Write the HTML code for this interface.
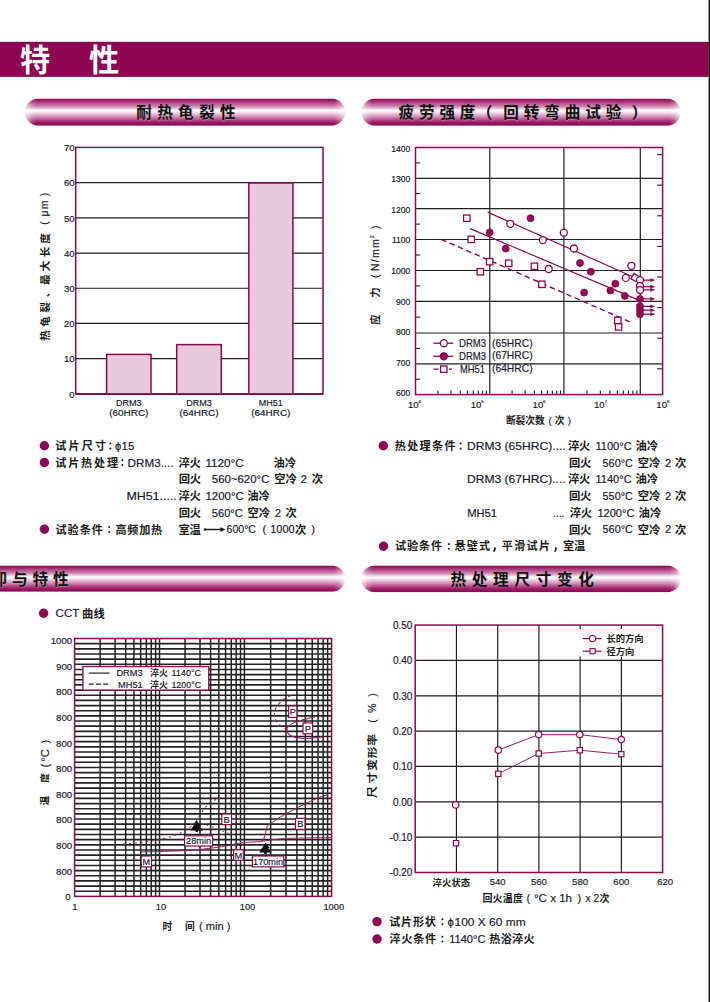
<!DOCTYPE html>
<html lang="zh"><head><meta charset="utf-8"><title>特性</title>
<style>
html,body{margin:0;padding:0;background:#fff}
body{width:710px;height:1002px;overflow:hidden;font-family:"Liberation Sans",sans-serif}
svg{display:block}
svg text{font-family:"Liberation Sans",sans-serif;stroke-width:.16px}
svg text.c{font-family:"Liberation Sans","Noto Sans CJK SC",sans-serif;font-weight:700;fill:#1a1a1a;stroke:none}
svg text.w{fill:#fff}
svg text.k{fill:#111}
svg text.s{fill:#b9a;opacity:.5}
</style></head><body>
<svg width="710" height="1002" viewBox="0 0 710 1002">
<defs>
<linearGradient id="pg" x1="0" y1="0" x2="0" y2="1">
<stop offset="0" stop-color="#8e0552"/><stop offset=".1" stop-color="#a2286d"/><stop offset=".3" stop-color="#d18cb7"/><stop offset=".44" stop-color="#fff"/><stop offset=".5" stop-color="#f8e6f0"/><stop offset=".68" stop-color="#cf84b2"/><stop offset=".86" stop-color="#9e2169"/><stop offset="1" stop-color="#8a044e"/>
</linearGradient>
<linearGradient id="er" x1="0" y1="0" x2="1" y2="0"><stop offset="0" stop-color="#fff" stop-opacity="0"/><stop offset=".5" stop-color="#fff" stop-opacity=".22"/><stop offset="1" stop-color="#fff" stop-opacity=".7"/></linearGradient>
<linearGradient id="el" x1="1" y1="0" x2="0" y2="0"><stop offset="0" stop-color="#fff" stop-opacity="0"/><stop offset=".5" stop-color="#fff" stop-opacity=".22"/><stop offset="1" stop-color="#fff" stop-opacity=".7"/></linearGradient>
</defs>
<rect x="0" y="0" width="710" height="1002" fill="#fff"/>
<rect x="0" y="41.8" width="708.8" height="35.1" fill="#8e0552"/>
<rect x="708.6" y="0" width="1.4" height="1002" fill="#0c0c0c"/>
<text class="c w" x="20" y="71.08" font-size="30.2" textLength="30.2">特</text>
<text class="c w" x="89" y="71.08" font-size="30.2" textLength="30.2">性</text>
<clipPath id="c1025_98"><rect x="25" y="98.5" width="320" height="27.3" rx="13.65"/></clipPath>
<g clip-path="url(#c1025_98)">
<rect x="25" y="98.5" width="320" height="27.3" fill="url(#pg)"/>
<rect x="334" y="98.5" width="11" height="27.3" fill="url(#er)"/>
<rect x="25" y="98.5" width="11" height="27.3" fill="url(#el)"/>
</g>
<clipPath id="c1361_98"><rect x="361.5" y="98.5" width="319" height="27.3" rx="13.65"/></clipPath>
<g clip-path="url(#c1361_98)">
<rect x="361.5" y="98.5" width="319" height="27.3" fill="url(#pg)"/>
<rect x="669.5" y="98.5" width="11" height="27.3" fill="url(#er)"/>
<rect x="361.5" y="98.5" width="11" height="27.3" fill="url(#el)"/>
</g>
<clipPath id="c970_565"><rect x="-30" y="565.4" width="375" height="26.4" rx="13.2"/></clipPath>
<g clip-path="url(#c970_565)">
<rect x="-30" y="565.4" width="375" height="26.4" fill="url(#pg)"/>
<rect x="334" y="565.4" width="11" height="26.4" fill="url(#er)"/>
</g>
<clipPath id="c1361_565"><rect x="361.5" y="565.4" width="319" height="26.9" rx="13.45"/></clipPath>
<g clip-path="url(#c1361_565)">
<rect x="361.5" y="565.4" width="319" height="26.9" fill="url(#pg)"/>
<rect x="669.5" y="565.4" width="11" height="26.9" fill="url(#er)"/>
<rect x="361.5" y="565.4" width="11" height="26.9" fill="url(#el)"/>
</g>
<text class="c s" x="136.92" y="119.03" font-size="15.6" textLength="99.4">耐热龟裂性</text>
<text class="c k" x="136.22" y="118.33" font-size="15.6" textLength="99.4">耐热龟裂性</text>
<text class="c s" x="399.32" y="119.13" font-size="15.6" textLength="76.8">疲劳强度</text>
<text class="c k" x="398.62" y="118.43" font-size="15.6" textLength="76.8">疲劳强度</text>
<text class="c s" x="477.37" y="119.13" font-size="15.6" textLength="15.6">（</text>
<text class="c k" x="476.67" y="118.43" font-size="15.6" textLength="15.6">（</text>
<text class="c s" x="503.85" y="119.13" font-size="15.6" textLength="118.1">回转弯曲试验</text>
<text class="c k" x="503.15" y="118.43" font-size="15.6" textLength="118.1">回转弯曲试验</text>
<text class="c s" x="632.43" y="119.13" font-size="15.6" textLength="15.6">）</text>
<text class="c k" x="631.73" y="118.43" font-size="15.6" textLength="15.6">）</text>
<text class="c s" x="12.67" y="585.73" font-size="15.6" textLength="56.6">与特性</text>
<text class="c k" x="11.97" y="585.03" font-size="15.6" textLength="56.6">与特性</text>
<text class="c s" x="-8.01" y="585.73" font-size="15.6" textLength="15.6">却</text>
<text class="c k" x="-8.71" y="585.03" font-size="15.6" textLength="15.6">却</text>
<text class="c s" x="451.21" y="585.43" font-size="15.6" textLength="143.4">热处理尺寸变化</text>
<text class="c k" x="450.51" y="584.73" font-size="15.6" textLength="143.4">热处理尺寸变化</text>
<line x1="75.7" y1="358.69" x2="323" y2="358.69" stroke="#1e1e1e" stroke-width="1.2"/>
<line x1="75.7" y1="323.47" x2="323" y2="323.47" stroke="#1e1e1e" stroke-width="1.2"/>
<line x1="75.7" y1="288.26" x2="323" y2="288.26" stroke="#1e1e1e" stroke-width="1.2"/>
<line x1="75.7" y1="253.04" x2="323" y2="253.04" stroke="#1e1e1e" stroke-width="1.2"/>
<line x1="75.7" y1="217.83" x2="323" y2="217.83" stroke="#1e1e1e" stroke-width="1.2"/>
<line x1="75.7" y1="182.61" x2="323" y2="182.61" stroke="#1e1e1e" stroke-width="1.2"/>
<line x1="75.7" y1="393.9" x2="323" y2="393.9" stroke="#1e1e1e" stroke-width="1.6"/>
<rect x="106.6" y="354.4" width="44.4" height="39.8" fill="#e9c9dd" stroke="#8e0552" stroke-width="1.5"/>
<rect x="176.7" y="344.6" width="44.6" height="49.6" fill="#e9c9dd" stroke="#8e0552" stroke-width="1.5"/>
<rect x="248.8" y="183" width="44.1" height="211.2" fill="#e9c9dd" stroke="#8e0552" stroke-width="1.5"/>
<rect x="75.7" y="147.4" width="247.3" height="246.5" fill="none" stroke="#8e0552" stroke-width="1.5"/>
<text x="74.6" y="397.64" font-size="9.6" fill="#16162b" stroke="#16162b" text-anchor="end">0</text>
<text x="74.6" y="362.42" font-size="9.6" fill="#16162b" stroke="#16162b" text-anchor="end">10</text>
<text x="74.6" y="327.21" font-size="9.6" fill="#16162b" stroke="#16162b" text-anchor="end">20</text>
<text x="74.6" y="291.99" font-size="9.6" fill="#16162b" stroke="#16162b" text-anchor="end">30</text>
<text x="74.6" y="256.78" font-size="9.6" fill="#16162b" stroke="#16162b" text-anchor="end">40</text>
<text x="74.6" y="221.57" font-size="9.6" fill="#16162b" stroke="#16162b" text-anchor="end">50</text>
<text x="74.6" y="186.35" font-size="9.6" fill="#16162b" stroke="#16162b" text-anchor="end">60</text>
<text x="74.6" y="151.14" font-size="9.6" fill="#16162b" stroke="#16162b" text-anchor="end">70</text>
<text x="128.8" y="405.62" font-size="9" fill="#16162b" stroke="#16162b" text-anchor="middle">DRM3</text>
<text x="109.2" y="415.97" font-size="9.4" fill="#16162b" stroke="#16162b" textLength="39.2" lengthAdjust="spacingAndGlyphs">(60HRC)</text>
<text x="199" y="405.62" font-size="9" fill="#16162b" stroke="#16162b" text-anchor="middle">DRM3</text>
<text x="179.4" y="415.97" font-size="9.4" fill="#16162b" stroke="#16162b" textLength="39.2" lengthAdjust="spacingAndGlyphs">(64HRC)</text>
<text x="270.8" y="405.62" font-size="9" fill="#16162b" stroke="#16162b" text-anchor="middle">MH51</text>
<text x="251.2" y="415.97" font-size="9.4" fill="#16162b" stroke="#16162b" textLength="39.2" lengthAdjust="spacingAndGlyphs">(64HRC)</text>
<g transform="translate(44.6 0) rotate(-90)">
<text class="c" x="-340.7" y="4.03" font-size="10.6" textLength="10.6">热</text>
<text class="c" x="-326.7" y="4.03" font-size="10.6" textLength="10.6">龟</text>
<text class="c" x="-312.8" y="4.03" font-size="10.6" textLength="10.6">裂</text>
<text class="c" x="-297.3" y="4.03" font-size="10.6" textLength="10.6">、</text>
<text class="c" x="-285" y="4.03" font-size="10.6" textLength="10.6">最</text>
<text class="c" x="-271.3" y="4.03" font-size="10.6" textLength="10.6">大</text>
<text class="c" x="-257.3" y="4.03" font-size="10.6" textLength="10.6">长</text>
<text class="c" x="-243.7" y="4.03" font-size="10.6" textLength="10.6">度</text>
<text x="-223" y="3.76" font-size="10.5" fill="#16162b" stroke="#16162b" text-anchor="middle">(</text>
<text x="-207.8" y="3.76" font-size="10.5" fill="#16162b" stroke="#16162b" text-anchor="middle" letter-spacing="1.2">μm</text>
<text x="-194.6" y="3.76" font-size="10.5" fill="#16162b" stroke="#16162b" text-anchor="middle">)</text>
</g>
<line x1="415.5" y1="178.3" x2="662.6" y2="178.3" stroke="#1e1e1e" stroke-width="1.2"/>
<line x1="415.5" y1="208.7" x2="662.6" y2="208.7" stroke="#1e1e1e" stroke-width="1.2"/>
<line x1="415.5" y1="239.5" x2="662.6" y2="239.5" stroke="#1e1e1e" stroke-width="1.2"/>
<line x1="415.5" y1="270.5" x2="662.6" y2="270.5" stroke="#1e1e1e" stroke-width="1.2"/>
<line x1="415.5" y1="301.3" x2="662.6" y2="301.3" stroke="#1e1e1e" stroke-width="1.2"/>
<line x1="415.5" y1="333" x2="662.6" y2="333" stroke="#1e1e1e" stroke-width="1.2"/>
<line x1="415.5" y1="363.9" x2="662.6" y2="363.9" stroke="#1e1e1e" stroke-width="1.2"/>
<line x1="489.8" y1="147.5" x2="489.8" y2="394.6" stroke="#1e1e1e" stroke-width="1.2"/>
<line x1="563.9" y1="147.5" x2="563.9" y2="394.6" stroke="#1e1e1e" stroke-width="1.2"/>
<line x1="640.3" y1="147.5" x2="640.3" y2="394.6" stroke="#1e1e1e" stroke-width="1.2"/>
<line x1="415.5" y1="379.25" x2="420.1" y2="379.25" stroke="#1e1e1e" stroke-width="1.1"/>
<line x1="415.5" y1="348.45" x2="420.1" y2="348.45" stroke="#1e1e1e" stroke-width="1.1"/>
<line x1="415.5" y1="317.15" x2="420.1" y2="317.15" stroke="#1e1e1e" stroke-width="1.1"/>
<line x1="415.5" y1="285.9" x2="420.1" y2="285.9" stroke="#1e1e1e" stroke-width="1.1"/>
<line x1="415.5" y1="255" x2="420.1" y2="255" stroke="#1e1e1e" stroke-width="1.1"/>
<line x1="415.5" y1="224.1" x2="420.1" y2="224.1" stroke="#1e1e1e" stroke-width="1.1"/>
<line x1="415.5" y1="193.5" x2="420.1" y2="193.5" stroke="#1e1e1e" stroke-width="1.1"/>
<line x1="415.5" y1="162.9" x2="420.1" y2="162.9" stroke="#1e1e1e" stroke-width="1.1"/>
<line x1="657.1" y1="154.6" x2="662.6" y2="154.6" stroke="#1e1e1e" stroke-width="1.1"/>
<line x1="657.1" y1="185.2" x2="662.6" y2="185.2" stroke="#1e1e1e" stroke-width="1.1"/>
<line x1="657.1" y1="215.8" x2="662.6" y2="215.8" stroke="#1e1e1e" stroke-width="1.1"/>
<line x1="657.1" y1="246.4" x2="662.6" y2="246.4" stroke="#1e1e1e" stroke-width="1.1"/>
<line x1="657.1" y1="277" x2="662.6" y2="277" stroke="#1e1e1e" stroke-width="1.1"/>
<line x1="657.1" y1="307.6" x2="662.6" y2="307.6" stroke="#1e1e1e" stroke-width="1.1"/>
<line x1="657.1" y1="338.2" x2="662.6" y2="338.2" stroke="#1e1e1e" stroke-width="1.1"/>
<line x1="657.1" y1="368.8" x2="662.6" y2="368.8" stroke="#1e1e1e" stroke-width="1.1"/>
<line x1="437.87" y1="390.4" x2="437.87" y2="394.6" stroke="#1e1e1e" stroke-width="1.1"/>
<line x1="450.95" y1="390.4" x2="450.95" y2="394.6" stroke="#1e1e1e" stroke-width="1.1"/>
<line x1="460.23" y1="390.4" x2="460.23" y2="394.6" stroke="#1e1e1e" stroke-width="1.1"/>
<line x1="467.43" y1="390.4" x2="467.43" y2="394.6" stroke="#1e1e1e" stroke-width="1.1"/>
<line x1="473.32" y1="390.4" x2="473.32" y2="394.6" stroke="#1e1e1e" stroke-width="1.1"/>
<line x1="478.29" y1="390.4" x2="478.29" y2="394.6" stroke="#1e1e1e" stroke-width="1.1"/>
<line x1="482.6" y1="390.4" x2="482.6" y2="394.6" stroke="#1e1e1e" stroke-width="1.1"/>
<line x1="486.4" y1="390.4" x2="486.4" y2="394.6" stroke="#1e1e1e" stroke-width="1.1"/>
<line x1="512.11" y1="390.4" x2="512.11" y2="394.6" stroke="#1e1e1e" stroke-width="1.1"/>
<line x1="525.15" y1="390.4" x2="525.15" y2="394.6" stroke="#1e1e1e" stroke-width="1.1"/>
<line x1="534.41" y1="390.4" x2="534.41" y2="394.6" stroke="#1e1e1e" stroke-width="1.1"/>
<line x1="541.59" y1="390.4" x2="541.59" y2="394.6" stroke="#1e1e1e" stroke-width="1.1"/>
<line x1="547.46" y1="390.4" x2="547.46" y2="394.6" stroke="#1e1e1e" stroke-width="1.1"/>
<line x1="552.42" y1="390.4" x2="552.42" y2="394.6" stroke="#1e1e1e" stroke-width="1.1"/>
<line x1="556.72" y1="390.4" x2="556.72" y2="394.6" stroke="#1e1e1e" stroke-width="1.1"/>
<line x1="560.51" y1="390.4" x2="560.51" y2="394.6" stroke="#1e1e1e" stroke-width="1.1"/>
<line x1="586.9" y1="390.4" x2="586.9" y2="394.6" stroke="#1e1e1e" stroke-width="1.1"/>
<line x1="600.35" y1="390.4" x2="600.35" y2="394.6" stroke="#1e1e1e" stroke-width="1.1"/>
<line x1="609.9" y1="390.4" x2="609.9" y2="394.6" stroke="#1e1e1e" stroke-width="1.1"/>
<line x1="617.3" y1="390.4" x2="617.3" y2="394.6" stroke="#1e1e1e" stroke-width="1.1"/>
<line x1="623.35" y1="390.4" x2="623.35" y2="394.6" stroke="#1e1e1e" stroke-width="1.1"/>
<line x1="628.47" y1="390.4" x2="628.47" y2="394.6" stroke="#1e1e1e" stroke-width="1.1"/>
<line x1="632.9" y1="390.4" x2="632.9" y2="394.6" stroke="#1e1e1e" stroke-width="1.1"/>
<line x1="636.8" y1="390.4" x2="636.8" y2="394.6" stroke="#1e1e1e" stroke-width="1.1"/>
<path d="M487.7 212.1L640 280" fill="none" stroke="#8e0552" stroke-width="1.15"/>
<path d="M470.1 228.6L637.5 299.6" fill="none" stroke="#8e0552" stroke-width="1.15"/>
<path d="M441.3 239.4L632.5 323" fill="none" stroke="#8e0552" stroke-width="1.4" stroke-dasharray="5.5 3.6"/>
<path d="M640 280.1 H652.5 M650.3 278.8 L653.6 280.1 L650.3 281.4" fill="none" stroke="#8e0552" stroke-width="1.2"/>
<path d="M640 286.7 H652.5 M650.3 285.4 L653.6 286.7 L650.3 288" fill="none" stroke="#8e0552" stroke-width="1.2"/>
<path d="M640 289.8 H652.5 M650.3 288.5 L653.6 289.8 L650.3 291.1" fill="none" stroke="#8e0552" stroke-width="1.2"/>
<path d="M640 298.9 H652.5 M650.3 297.6 L653.6 298.9 L650.3 300.2" fill="none" stroke="#8e0552" stroke-width="1.2"/>
<path d="M640 306.3 H652.5 M650.3 305 L653.6 306.3 L650.3 307.6" fill="none" stroke="#8e0552" stroke-width="1.2"/>
<path d="M640 310.2 H652.5 M650.3 308.9 L653.6 310.2 L650.3 311.5" fill="none" stroke="#8e0552" stroke-width="1.2"/>
<path d="M640 314.2 H652.5 M650.3 312.9 L653.6 314.2 L650.3 315.5" fill="none" stroke="#8e0552" stroke-width="1.2"/>
<rect x="463.6" y="215" width="6.4" height="6.4" fill="#fff" stroke="#8e0552" stroke-width="1.3"/>
<rect x="468.1" y="236.2" width="6.4" height="6.4" fill="#fff" stroke="#8e0552" stroke-width="1.3"/>
<rect x="486.5" y="258.5" width="6.4" height="6.4" fill="#fff" stroke="#8e0552" stroke-width="1.3"/>
<rect x="477.1" y="268.6" width="6.4" height="6.4" fill="#fff" stroke="#8e0552" stroke-width="1.3"/>
<rect x="505.5" y="260.1" width="6.4" height="6.4" fill="#fff" stroke="#8e0552" stroke-width="1.3"/>
<rect x="531.2" y="263.1" width="6.4" height="6.4" fill="#fff" stroke="#8e0552" stroke-width="1.3"/>
<rect x="538.7" y="281.1" width="6.4" height="6.4" fill="#fff" stroke="#8e0552" stroke-width="1.3"/>
<rect x="614.6" y="317.2" width="6.4" height="6.4" fill="#fff" stroke="#8e0552" stroke-width="1.3"/>
<rect x="615.4" y="323.7" width="6.4" height="6.4" fill="#fff" stroke="#8e0552" stroke-width="1.3"/>
<rect x="632" y="274.6" width="6" height="6" fill="#fff" stroke="#8e0552" stroke-width="1.3" transform="rotate(30 635 277.6)"/>
<circle cx="510.3" cy="223.8" r="3.5" fill="#fff" stroke="#8e0552" stroke-width="1.3"/>
<circle cx="542.8" cy="240.1" r="3.5" fill="#fff" stroke="#8e0552" stroke-width="1.3"/>
<circle cx="563.8" cy="232.7" r="3.5" fill="#fff" stroke="#8e0552" stroke-width="1.3"/>
<circle cx="573.9" cy="248.5" r="3.5" fill="#fff" stroke="#8e0552" stroke-width="1.3"/>
<circle cx="548.7" cy="269" r="3.5" fill="#fff" stroke="#8e0552" stroke-width="1.3"/>
<circle cx="631.4" cy="265.8" r="3.5" fill="#fff" stroke="#8e0552" stroke-width="1.3"/>
<circle cx="625.8" cy="277.9" r="3.5" fill="#fff" stroke="#8e0552" stroke-width="1.3"/>
<circle cx="640" cy="280.1" r="3.5" fill="#fff" stroke="#8e0552" stroke-width="1.3"/>
<circle cx="640" cy="286" r="3.5" fill="#fff" stroke="#8e0552" stroke-width="1.3"/>
<circle cx="640" cy="290" r="3.5" fill="#fff" stroke="#8e0552" stroke-width="1.3"/>
<circle cx="489.7" cy="232.4" r="3.5" fill="#8e0552" stroke="#8e0552" stroke-width="0.8"/>
<circle cx="505.7" cy="248.6" r="3.5" fill="#8e0552" stroke="#8e0552" stroke-width="0.8"/>
<circle cx="530.5" cy="218.2" r="3.5" fill="#8e0552" stroke="#8e0552" stroke-width="0.8"/>
<circle cx="580" cy="263.1" r="3.5" fill="#8e0552" stroke="#8e0552" stroke-width="0.8"/>
<circle cx="590.8" cy="271.7" r="3.5" fill="#8e0552" stroke="#8e0552" stroke-width="0.8"/>
<circle cx="584.1" cy="292.6" r="3.5" fill="#8e0552" stroke="#8e0552" stroke-width="0.8"/>
<circle cx="615.3" cy="283.7" r="3.5" fill="#8e0552" stroke="#8e0552" stroke-width="0.8"/>
<circle cx="610.4" cy="290.5" r="3.5" fill="#8e0552" stroke="#8e0552" stroke-width="0.8"/>
<circle cx="624.8" cy="295.9" r="3.5" fill="#8e0552" stroke="#8e0552" stroke-width="0.8"/>
<circle cx="640" cy="298.9" r="3.5" fill="#8e0552" stroke="#8e0552" stroke-width="0.8"/>
<circle cx="640" cy="306.3" r="3.5" fill="#8e0552" stroke="#8e0552" stroke-width="0.8"/>
<circle cx="640" cy="310.2" r="3.5" fill="#8e0552" stroke="#8e0552" stroke-width="0.8"/>
<circle cx="640" cy="314.2" r="3.5" fill="#8e0552" stroke="#8e0552" stroke-width="0.8"/>
<rect x="415.5" y="147.5" width="247.1" height="247.1" fill="none" stroke="#8e0552" stroke-width="1.5"/>
<text x="410.4" y="151.68" font-size="8.6" fill="#16162b" stroke="#16162b" text-anchor="end">1400</text>
<text x="410.4" y="182.27" font-size="8.6" fill="#16162b" stroke="#16162b" text-anchor="end">1300</text>
<text x="410.4" y="212.86" font-size="8.6" fill="#16162b" stroke="#16162b" text-anchor="end">1200</text>
<text x="410.4" y="243.45" font-size="8.6" fill="#16162b" stroke="#16162b" text-anchor="end">1100</text>
<text x="410.4" y="274.04" font-size="8.6" fill="#16162b" stroke="#16162b" text-anchor="end">1000</text>
<text x="410.4" y="304.63" font-size="8.6" fill="#16162b" stroke="#16162b" text-anchor="end">900</text>
<text x="410.4" y="335.22" font-size="8.6" fill="#16162b" stroke="#16162b" text-anchor="end">800</text>
<text x="410.4" y="365.81" font-size="8.6" fill="#16162b" stroke="#16162b" text-anchor="end">700</text>
<text x="410.4" y="396.4" font-size="8.6" fill="#16162b" stroke="#16162b" text-anchor="end">600</text>
<text x="413.3" y="408.04" font-size="9.6" fill="#16162b" stroke="#16162b" text-anchor="middle">10</text>
<text x="418.5" y="402.78" font-size="4.4" fill="#16162b" stroke="#16162b">4</text>
<text x="476" y="408.04" font-size="9.6" fill="#16162b" stroke="#16162b" text-anchor="middle">10</text>
<text x="481.2" y="402.78" font-size="4.4" fill="#16162b" stroke="#16162b">5</text>
<text x="537.9" y="408.04" font-size="9.6" fill="#16162b" stroke="#16162b" text-anchor="middle">10</text>
<text x="543.1" y="402.78" font-size="4.4" fill="#16162b" stroke="#16162b">6</text>
<text x="599.3" y="408.04" font-size="9.6" fill="#16162b" stroke="#16162b" text-anchor="middle">10</text>
<text x="604.5" y="402.78" font-size="4.4" fill="#16162b" stroke="#16162b">7</text>
<text x="661.7" y="408.04" font-size="9.6" fill="#16162b" stroke="#16162b" text-anchor="middle">10</text>
<text x="666.9" y="402.78" font-size="4.4" fill="#16162b" stroke="#16162b">8</text>
<line x1="433.4" y1="343.2" x2="453.2" y2="343.2" stroke="#8e0552" stroke-width="1.3"/>
<circle cx="443.8" cy="343.2" r="3.5" fill="#fff" stroke="#8e0552" stroke-width="1.3"/>
<text x="459" y="346.95" font-size="10.2" fill="#16162b" stroke="#16162b" textLength="27" lengthAdjust="spacingAndGlyphs">DRM3</text>
<text x="492" y="346.95" font-size="10.2" fill="#16162b" stroke="#16162b" textLength="40.6" lengthAdjust="spacingAndGlyphs">(65HRC)</text>
<line x1="433.4" y1="356.3" x2="453.2" y2="356.3" stroke="#8e0552" stroke-width="1.3"/>
<circle cx="443.8" cy="356.3" r="3.5" fill="#8e0552" stroke="#8e0552" stroke-width="1.3"/>
<text x="459" y="360.05" font-size="10.2" fill="#16162b" stroke="#16162b" textLength="27" lengthAdjust="spacingAndGlyphs">DRM3</text>
<text x="492" y="359.25" font-size="10.2" fill="#16162b" stroke="#16162b" textLength="40.6" lengthAdjust="spacingAndGlyphs">(67HRC)</text>
<path d="M433.4 369.2 H438.6 M449 369.2 H452" fill="none" stroke="#8e0552" stroke-width="1.3"/>
<rect x="440.6" y="366" width="6.4" height="6.4" fill="#fff" stroke="#8e0552" stroke-width="1.3"/>
<text x="460" y="372.95" font-size="10.2" fill="#16162b" stroke="#16162b" textLength="25" lengthAdjust="spacingAndGlyphs">MH51</text>
<text x="492" y="372.15" font-size="10.2" fill="#16162b" stroke="#16162b" textLength="40.6" lengthAdjust="spacingAndGlyphs">(64HRC)</text>
<text class="c" x="505.9" y="424.19" font-size="9.7" textLength="38.86">断裂次数</text>
<text x="548.6" y="423.74" font-size="9.6" fill="#16162b" stroke="#16162b">(</text>
<text class="c" x="554.8" y="424.19" font-size="9.7" textLength="9.7">次</text>
<text x="567.8" y="423.74" font-size="9.6" fill="#16162b" stroke="#16162b">)</text>
<g transform="translate(375.0 0) rotate(-90)">
<text class="c" x="-324.7" y="3.95" font-size="10.4" textLength="10.4">应</text>
<text class="c" x="-297.7" y="3.95" font-size="10.4" textLength="10.4">力</text>
<text x="-276.3" y="3.76" font-size="10.5" fill="#16162b" stroke="#16162b" text-anchor="middle">(</text>
<text x="-254.5" y="4.06" font-size="10.5" fill="#16162b" stroke="#16162b" text-anchor="middle" letter-spacing="1.3">N/mm</text>
<text x="-236.6" y="-1.23" font-size="5.5" fill="#16162b" stroke="#16162b" text-anchor="middle">2</text>
<text x="-227.2" y="3.76" font-size="10.5" fill="#16162b" stroke="#16162b" text-anchor="middle">)</text>
</g>
<circle cx="44.4" cy="445.8" r="4.7" fill="#8e0552"/>
<circle cx="44.4" cy="462.5" r="4.7" fill="#8e0552"/>
<circle cx="44.4" cy="529.3" r="4.7" fill="#8e0552"/>
<text class="c" x="55.3" y="450.02" font-size="11.1" textLength="50.7">试片尺寸</text>
<circle cx="110.4" cy="443.5" r="1" fill="#1a1a1a"/><circle cx="110.4" cy="448.4" r="1" fill="#1a1a1a"/>
<text x="115" y="449.81" font-size="11.2" fill="#16162b" stroke="#16162b">ϕ</text>
<text x="121.6" y="449.81" font-size="11.2" fill="#16162b" stroke="#16162b" textLength="12.8" lengthAdjust="spacingAndGlyphs">15</text>
<text class="c" x="55.3" y="466.72" font-size="11.1" textLength="62.7">试片热处理</text>
<circle cx="122.3" cy="460.2" r="1" fill="#1a1a1a"/><circle cx="122.3" cy="465.1" r="1" fill="#1a1a1a"/>
<text x="127.6" y="466.51" font-size="11.2" fill="#16162b" stroke="#16162b" textLength="46" lengthAdjust="spacingAndGlyphs">DRM3....</text>
<text class="c" x="178.6" y="466.79" font-size="11.3" textLength="22.3">淬火</text>
<text x="205.4" y="466.51" font-size="11.2" fill="#16162b" stroke="#16162b" textLength="38.4" lengthAdjust="spacingAndGlyphs">1120°C</text>
<text class="c" x="273.4" y="466.79" font-size="11.3" textLength="22.7">油冷</text>
<text class="c" x="178.8" y="483.49" font-size="11.3" textLength="22.3">回火</text>
<text x="211.8" y="483.21" font-size="11.2" fill="#16162b" stroke="#16162b" textLength="57.6" lengthAdjust="spacingAndGlyphs">560~620°C</text>
<text class="c" x="274.2" y="483.49" font-size="11.3" textLength="22.5">空冷</text>
<text x="300.8" y="483.21" font-size="11.2" fill="#16162b" stroke="#16162b">2</text>
<text class="c" x="311.8" y="483.49" font-size="11.3" textLength="11.3">次</text>
<text x="126.4" y="499.91" font-size="11.2" fill="#16162b" stroke="#16162b" textLength="50.4" lengthAdjust="spacingAndGlyphs">MH51.....</text>
<text class="c" x="178.6" y="500.19" font-size="11.3" textLength="22.3">淬火</text>
<text x="205.4" y="499.91" font-size="11.2" fill="#16162b" stroke="#16162b" textLength="38.4" lengthAdjust="spacingAndGlyphs">1200°C</text>
<text class="c" x="247.2" y="500.19" font-size="11.3" textLength="22.7">油冷</text>
<text class="c" x="178.8" y="516.89" font-size="11.3" textLength="22.3">回火</text>
<text x="211.8" y="516.61" font-size="11.2" fill="#16162b" stroke="#16162b" textLength="31" lengthAdjust="spacingAndGlyphs">560°C</text>
<text class="c" x="247.6" y="516.89" font-size="11.3" textLength="22.5">空冷</text>
<text x="274.8" y="516.61" font-size="11.2" fill="#16162b" stroke="#16162b">2</text>
<text class="c" x="285.4" y="516.89" font-size="11.3" textLength="11.3">次</text>
<text class="c" x="55.5" y="533.52" font-size="11.1" textLength="47.4">试验条件</text>
<circle cx="109.2" cy="527" r="1" fill="#1a1a1a"/><circle cx="109.2" cy="531.9" r="1" fill="#1a1a1a"/>
<text class="c" x="115.4" y="533.52" font-size="11.1" textLength="46.8">高频加热</text>
<text class="c" x="178.4" y="533.59" font-size="11.3" textLength="22.5">室温</text>
<path d="M204.6 529.5 H222.8 M220.4 528 L223.8 529.5 L220.4 531" fill="none" stroke="#1a1a1a" stroke-width="1.4"/>
<circle cx="205" cy="529.5" r="1.3" fill="#1a1a1a"/>
<text x="226.6" y="533.31" font-size="11.2" fill="#16162b" stroke="#16162b" textLength="29.4" lengthAdjust="spacingAndGlyphs">600°C</text>
<text x="262.4" y="533.31" font-size="11.2" fill="#16162b" stroke="#16162b">(</text>
<text x="270.2" y="533.31" font-size="11.2" fill="#16162b" stroke="#16162b" textLength="24.4" lengthAdjust="spacingAndGlyphs">1000</text>
<text class="c" x="295" y="533.59" font-size="11.3" textLength="11.3">次</text>
<text x="311.2" y="533.31" font-size="11.2" fill="#16162b" stroke="#16162b">)</text>
<circle cx="383.3" cy="445.8" r="4.7" fill="#8e0552"/>
<circle cx="383.5" cy="546.2" r="4.7" fill="#8e0552"/>
<text class="c" x="394.8" y="450.02" font-size="11.1" textLength="60.7">热处理条件</text>
<circle cx="460.6" cy="443.5" r="1" fill="#1a1a1a"/><circle cx="460.6" cy="448.4" r="1" fill="#1a1a1a"/>
<text x="467" y="449.81" font-size="11.2" fill="#16162b" stroke="#16162b" textLength="98.6" lengthAdjust="spacingAndGlyphs">DRM3 (65HRC)....</text>
<text class="c" x="568" y="450.09" font-size="11.3" textLength="22.3">淬火</text>
<text x="595.4" y="449.81" font-size="11.2" fill="#16162b" stroke="#16162b" textLength="36.4" lengthAdjust="spacingAndGlyphs">1100°C</text>
<text class="c" x="635.4" y="450.09" font-size="11.3" textLength="22.7">油冷</text>
<text class="c" x="569" y="466.79" font-size="11.3" textLength="22.3">回火</text>
<text x="602.6" y="466.51" font-size="11.2" fill="#16162b" stroke="#16162b" textLength="30.2" lengthAdjust="spacingAndGlyphs">560°C</text>
<text class="c" x="637.8" y="466.79" font-size="11.3" textLength="22.5">空冷</text>
<text x="665" y="466.51" font-size="11.2" fill="#16162b" stroke="#16162b">2</text>
<text class="c" x="675" y="466.79" font-size="11.3" textLength="11.3">次</text>
<text x="467" y="483.21" font-size="11.2" fill="#16162b" stroke="#16162b" textLength="98.6" lengthAdjust="spacingAndGlyphs">DRM3 (67HRC)....</text>
<text class="c" x="568" y="483.49" font-size="11.3" textLength="22.3">淬火</text>
<text x="595.4" y="483.21" font-size="11.2" fill="#16162b" stroke="#16162b" textLength="36.4" lengthAdjust="spacingAndGlyphs">1140°C</text>
<text class="c" x="635.4" y="483.49" font-size="11.3" textLength="22.7">油冷</text>
<text class="c" x="569" y="500.19" font-size="11.3" textLength="22.3">回火</text>
<text x="602.6" y="499.91" font-size="11.2" fill="#16162b" stroke="#16162b" textLength="30.2" lengthAdjust="spacingAndGlyphs">550°C</text>
<text class="c" x="637.8" y="500.19" font-size="11.3" textLength="22.5">空冷</text>
<text x="665" y="499.91" font-size="11.2" fill="#16162b" stroke="#16162b">2</text>
<text class="c" x="675" y="500.19" font-size="11.3" textLength="11.3">次</text>
<text x="467.2" y="516.61" font-size="11.2" fill="#16162b" stroke="#16162b" textLength="29.8" lengthAdjust="spacingAndGlyphs">MH51</text>
<text x="553" y="516.61" font-size="11.2" fill="#16162b" stroke="#16162b" textLength="11.4" lengthAdjust="spacingAndGlyphs">....</text>
<text class="c" x="569.8" y="516.89" font-size="11.3" textLength="22.3">淬火</text>
<text x="597.4" y="516.61" font-size="11.2" fill="#16162b" stroke="#16162b" textLength="37" lengthAdjust="spacingAndGlyphs">1200°C</text>
<text class="c" x="638.6" y="516.89" font-size="11.3" textLength="22.7">油冷</text>
<text class="c" x="569" y="533.59" font-size="11.3" textLength="22.3">回火</text>
<text x="602.6" y="533.31" font-size="11.2" fill="#16162b" stroke="#16162b" textLength="30.2" lengthAdjust="spacingAndGlyphs">560°C</text>
<text class="c" x="637.8" y="533.59" font-size="11.3" textLength="22.5">空冷</text>
<text x="665" y="533.31" font-size="11.2" fill="#16162b" stroke="#16162b">2</text>
<text class="c" x="675" y="533.59" font-size="11.3" textLength="11.3">次</text>
<text class="c" x="394.9" y="550.42" font-size="11.1" textLength="47.31">试验条件</text>
<circle cx="448.8" cy="543.9" r="1" fill="#1a1a1a"/><circle cx="448.8" cy="548.8" r="1" fill="#1a1a1a"/>
<text class="c" x="454.5" y="550.42" font-size="11.1" textLength="35.7">悬壁式</text>
<path d="M494.4 547.4 q1.6 1.6 -0.8 4.2" fill="none" stroke="#1a1a1a" stroke-width="1.6"/>
<text class="c" x="501.8" y="550.42" font-size="11.1" textLength="48.3">平滑试片</text>
<path d="M555.4 547.4 q1.6 1.6 -0.8 4.2" fill="none" stroke="#1a1a1a" stroke-width="1.6"/>
<text class="c" x="563" y="550.42" font-size="11.1" textLength="22.1">室温</text>
<circle cx="43.6" cy="613.3" r="4.7" fill="#8e0552"/>
<text x="55.6" y="617.42" font-size="11.5" fill="#16162b" stroke="#16162b" textLength="23.8" lengthAdjust="spacingAndGlyphs">CCT</text>
<text class="c" x="81.9" y="617.59" font-size="11.3" textLength="22.9">曲线</text>
<line x1="74.6" y1="643.66" x2="331.6" y2="643.66" stroke="#222" stroke-width="1.65"/>
<line x1="74.6" y1="648.82" x2="331.6" y2="648.82" stroke="#222" stroke-width="1.65"/>
<line x1="74.6" y1="653.97" x2="331.6" y2="653.97" stroke="#222" stroke-width="1.65"/>
<line x1="74.6" y1="659.13" x2="331.6" y2="659.13" stroke="#222" stroke-width="1.65"/>
<line x1="74.6" y1="664.29" x2="331.6" y2="664.29" stroke="#222" stroke-width="1.65"/>
<line x1="74.6" y1="669.45" x2="331.6" y2="669.45" stroke="#222" stroke-width="1.65"/>
<line x1="74.6" y1="674.61" x2="331.6" y2="674.61" stroke="#222" stroke-width="1.65"/>
<line x1="74.6" y1="679.76" x2="331.6" y2="679.76" stroke="#222" stroke-width="1.65"/>
<line x1="74.6" y1="684.92" x2="331.6" y2="684.92" stroke="#222" stroke-width="1.65"/>
<line x1="74.6" y1="690.08" x2="331.6" y2="690.08" stroke="#222" stroke-width="1.65"/>
<line x1="74.6" y1="695.24" x2="331.6" y2="695.24" stroke="#222" stroke-width="1.65"/>
<line x1="74.6" y1="700.4" x2="331.6" y2="700.4" stroke="#222" stroke-width="1.65"/>
<line x1="74.6" y1="705.55" x2="331.6" y2="705.55" stroke="#222" stroke-width="1.65"/>
<line x1="74.6" y1="710.71" x2="331.6" y2="710.71" stroke="#222" stroke-width="1.65"/>
<line x1="74.6" y1="715.87" x2="331.6" y2="715.87" stroke="#222" stroke-width="1.65"/>
<line x1="74.6" y1="721.03" x2="331.6" y2="721.03" stroke="#222" stroke-width="1.65"/>
<line x1="74.6" y1="726.19" x2="331.6" y2="726.19" stroke="#222" stroke-width="1.65"/>
<line x1="74.6" y1="731.34" x2="331.6" y2="731.34" stroke="#222" stroke-width="1.65"/>
<line x1="74.6" y1="736.5" x2="331.6" y2="736.5" stroke="#222" stroke-width="1.65"/>
<line x1="74.6" y1="741.66" x2="331.6" y2="741.66" stroke="#222" stroke-width="1.65"/>
<line x1="74.6" y1="746.82" x2="331.6" y2="746.82" stroke="#222" stroke-width="1.65"/>
<line x1="74.6" y1="751.98" x2="331.6" y2="751.98" stroke="#222" stroke-width="1.65"/>
<line x1="74.6" y1="757.13" x2="331.6" y2="757.13" stroke="#222" stroke-width="1.65"/>
<line x1="74.6" y1="762.29" x2="331.6" y2="762.29" stroke="#222" stroke-width="1.65"/>
<line x1="74.6" y1="767.45" x2="331.6" y2="767.45" stroke="#222" stroke-width="1.65"/>
<line x1="74.6" y1="772.61" x2="331.6" y2="772.61" stroke="#222" stroke-width="1.65"/>
<line x1="74.6" y1="777.77" x2="331.6" y2="777.77" stroke="#222" stroke-width="1.65"/>
<line x1="74.6" y1="782.92" x2="331.6" y2="782.92" stroke="#222" stroke-width="1.65"/>
<line x1="74.6" y1="788.08" x2="331.6" y2="788.08" stroke="#222" stroke-width="1.65"/>
<line x1="74.6" y1="793.24" x2="331.6" y2="793.24" stroke="#222" stroke-width="1.65"/>
<line x1="74.6" y1="798.4" x2="331.6" y2="798.4" stroke="#222" stroke-width="1.65"/>
<line x1="74.6" y1="803.56" x2="331.6" y2="803.56" stroke="#222" stroke-width="1.65"/>
<line x1="74.6" y1="808.71" x2="331.6" y2="808.71" stroke="#222" stroke-width="1.65"/>
<line x1="74.6" y1="813.87" x2="331.6" y2="813.87" stroke="#222" stroke-width="1.65"/>
<line x1="74.6" y1="819.03" x2="331.6" y2="819.03" stroke="#222" stroke-width="1.65"/>
<line x1="74.6" y1="824.19" x2="331.6" y2="824.19" stroke="#222" stroke-width="1.65"/>
<line x1="74.6" y1="829.35" x2="331.6" y2="829.35" stroke="#222" stroke-width="1.65"/>
<line x1="74.6" y1="834.5" x2="331.6" y2="834.5" stroke="#222" stroke-width="1.65"/>
<line x1="74.6" y1="839.66" x2="331.6" y2="839.66" stroke="#222" stroke-width="1.65"/>
<line x1="74.6" y1="844.82" x2="331.6" y2="844.82" stroke="#222" stroke-width="1.65"/>
<line x1="74.6" y1="849.98" x2="331.6" y2="849.98" stroke="#222" stroke-width="1.65"/>
<line x1="74.6" y1="855.14" x2="331.6" y2="855.14" stroke="#222" stroke-width="1.65"/>
<line x1="74.6" y1="860.29" x2="331.6" y2="860.29" stroke="#222" stroke-width="1.65"/>
<line x1="74.6" y1="865.45" x2="331.6" y2="865.45" stroke="#222" stroke-width="1.65"/>
<line x1="74.6" y1="870.61" x2="331.6" y2="870.61" stroke="#222" stroke-width="1.65"/>
<line x1="74.6" y1="875.77" x2="331.6" y2="875.77" stroke="#222" stroke-width="1.65"/>
<line x1="74.6" y1="880.93" x2="331.6" y2="880.93" stroke="#222" stroke-width="1.65"/>
<line x1="74.6" y1="886.08" x2="331.6" y2="886.08" stroke="#222" stroke-width="1.65"/>
<line x1="74.6" y1="891.24" x2="331.6" y2="891.24" stroke="#222" stroke-width="1.65"/>
<line x1="100.16" y1="638.5" x2="100.16" y2="896.4" stroke="#222" stroke-width="1.5"/>
<line x1="115.11" y1="638.5" x2="115.11" y2="896.4" stroke="#222" stroke-width="1.5"/>
<line x1="125.71" y1="638.5" x2="125.71" y2="896.4" stroke="#222" stroke-width="1.5"/>
<line x1="133.94" y1="638.5" x2="133.94" y2="896.4" stroke="#222" stroke-width="1.5"/>
<line x1="140.67" y1="638.5" x2="140.67" y2="896.4" stroke="#222" stroke-width="1.5"/>
<line x1="146.35" y1="638.5" x2="146.35" y2="896.4" stroke="#222" stroke-width="1.5"/>
<line x1="151.27" y1="638.5" x2="151.27" y2="896.4" stroke="#222" stroke-width="1.5"/>
<line x1="155.62" y1="638.5" x2="155.62" y2="896.4" stroke="#222" stroke-width="1.5"/>
<line x1="159.5" y1="638.5" x2="159.5" y2="896.4" stroke="#222" stroke-width="1.5"/>
<line x1="185.06" y1="638.5" x2="185.06" y2="896.4" stroke="#222" stroke-width="1.5"/>
<line x1="200.01" y1="638.5" x2="200.01" y2="896.4" stroke="#222" stroke-width="1.5"/>
<line x1="210.61" y1="638.5" x2="210.61" y2="896.4" stroke="#222" stroke-width="1.5"/>
<line x1="218.84" y1="638.5" x2="218.84" y2="896.4" stroke="#222" stroke-width="1.5"/>
<line x1="225.57" y1="638.5" x2="225.57" y2="896.4" stroke="#222" stroke-width="1.5"/>
<line x1="231.25" y1="638.5" x2="231.25" y2="896.4" stroke="#222" stroke-width="1.5"/>
<line x1="236.17" y1="638.5" x2="236.17" y2="896.4" stroke="#222" stroke-width="1.5"/>
<line x1="240.52" y1="638.5" x2="240.52" y2="896.4" stroke="#222" stroke-width="1.5"/>
<line x1="244.4" y1="638.5" x2="244.4" y2="896.4" stroke="#222" stroke-width="1.5"/>
<line x1="270.65" y1="638.5" x2="270.65" y2="896.4" stroke="#222" stroke-width="1.5"/>
<line x1="286" y1="638.5" x2="286" y2="896.4" stroke="#222" stroke-width="1.5"/>
<line x1="296.9" y1="638.5" x2="296.9" y2="896.4" stroke="#222" stroke-width="1.5"/>
<line x1="305.35" y1="638.5" x2="305.35" y2="896.4" stroke="#222" stroke-width="1.5"/>
<line x1="312.25" y1="638.5" x2="312.25" y2="896.4" stroke="#222" stroke-width="1.5"/>
<line x1="318.09" y1="638.5" x2="318.09" y2="896.4" stroke="#222" stroke-width="1.5"/>
<line x1="323.15" y1="638.5" x2="323.15" y2="896.4" stroke="#222" stroke-width="1.5"/>
<line x1="327.61" y1="638.5" x2="327.61" y2="896.4" stroke="#222" stroke-width="1.5"/>
<rect x="74.6" y="638.5" width="257" height="257.9" fill="none" stroke="#8e0552" stroke-width="1.5"/>
<path d="M123 844.1C135 843.2 142 842.6 148.9 841.5S160 839.6 165.1 838.3S175 835.6 179.6 833.5S190 828 195.8 822.1" fill="none" stroke="#9c1c69" stroke-width="1.05" stroke-dasharray="2.2 3.6"/>
<path d="M195.8 822.1C199 816 203 810 207.2 805.3S214 800.5 220.1 797.8S236 793.2 246.1 792.3" fill="none" stroke="#9c1c69" stroke-width="1.05" stroke-dasharray="2.2 3.6"/>
<path d="M195.8 822.1C200 823.4 203 824.2 207.2 825.4S216 828.6 220.1 830.2S227 832.8 231.5 834.4" fill="none" stroke="#9c1c69" stroke-width="1" stroke-dasharray="1.6 4"/>
<path d="M140.8 851.9C158 851.6 172 851.2 184.5 850.6S206 848.8 216.9 847.4S231 844.6 239.6 843.2S254 842.2 260.6 841.5C264.5 840.8 265.3 834 266.5 828.6S271 824 275.2 820.5S285 814.4 291.4 810.8S304 804.4 310.8 801.1S321 796.6 327.7 794.6" fill="none" stroke="#9c1c69" stroke-width="1"/>
<path d="M260.6 841.5C267 840.4 272 839.6 278.4 839S300 837.9 331 837.5" fill="none" stroke="#9c1c69" stroke-width="1"/>
<path d="M291.3 695.5C283 698.5 274 706 274.4 714.6S281 727 290 730.4" fill="none" stroke="#9c1c69" stroke-width="1.05" stroke-dasharray="3.4 3"/>
<path d="M315 717C302 719.5 287.5 723.5 286.8 729.3S294 737.6 301.4 738.3S315 738 322.8 736.7" fill="none" stroke="#9c1c69" stroke-width="1.05"/>
<rect x="82.9" y="666.5" width="125.8" height="23.6" fill="#fff" stroke="#8e0552" stroke-width="1.3"/>
<line x1="88.8" y1="673.1" x2="109.5" y2="673.1" stroke="#222" stroke-width="1.2"/>
<line x1="88.8" y1="684.2" x2="109.5" y2="684.2" stroke="#222" stroke-width="1.2" stroke-dasharray="5 2.2"/>
<text x="116.4" y="676.47" font-size="9.4" fill="#16162b" stroke="#16162b" textLength="26.4" lengthAdjust="spacingAndGlyphs">DRM3</text>
<text class="c" x="150" y="676.48" font-size="8.9" textLength="17.9">淬火</text>
<text x="171.4" y="676.47" font-size="9.4" fill="#16162b" stroke="#16162b" textLength="29.8" lengthAdjust="spacingAndGlyphs">1140°C</text>
<text x="118" y="687.57" font-size="9.4" fill="#16162b" stroke="#16162b" textLength="24.8" lengthAdjust="spacingAndGlyphs">MH51</text>
<text class="c" x="150" y="687.58" font-size="8.9" textLength="17.9">淬火</text>
<text x="171.4" y="687.57" font-size="9.4" fill="#16162b" stroke="#16162b" textLength="29.8" lengthAdjust="spacingAndGlyphs">1200°C</text>
<rect x="288.6" y="706" width="8.3" height="11.4" fill="#fff" stroke="#8e0552" stroke-width="1.2"/>
<text x="292.75" y="715.19" font-size="9.2" fill="#16162b" stroke="#16162b" text-anchor="middle">P</text>
<rect x="303" y="723" width="9.7" height="10.8" fill="#fff" stroke="#8e0552" stroke-width="1.2"/>
<text x="307.85" y="731.89" font-size="9.2" fill="#16162b" stroke="#16162b" text-anchor="middle">P</text>
<rect x="141.2" y="856" width="10.3" height="10.9" fill="#fff" stroke="#8e0552" stroke-width="1.2"/>
<text x="146.35" y="864.94" font-size="9.2" fill="#16162b" stroke="#16162b" text-anchor="middle">M</text>
<rect x="184.6" y="835.8" width="28" height="10.2" fill="#fff" stroke="#8e0552" stroke-width="1.2"/>
<text x="198.6" y="844.39" font-size="9.2" fill="#16162b" stroke="#16162b" text-anchor="middle">28min</text>
<rect x="221.8" y="814" width="9.7" height="10.6" fill="#fff" stroke="#8e0552" stroke-width="1.2"/>
<text x="226.65" y="822.79" font-size="9.2" fill="#16162b" stroke="#16162b" text-anchor="middle">B</text>
<rect x="233.6" y="849.8" width="9.7" height="10.5" fill="#fff" stroke="#8e0552" stroke-width="1.2"/>
<text x="238.45" y="858.54" font-size="9.2" fill="#16162b" stroke="#16162b" text-anchor="middle">M</text>
<rect x="252.4" y="856" width="31.4" height="10.9" fill="#fff" stroke="#8e0552" stroke-width="1.2"/>
<text x="268.1" y="864.94" font-size="9.2" fill="#16162b" stroke="#16162b" text-anchor="middle">170min</text>
<rect x="295.5" y="818.4" width="9.5" height="11" fill="#fff" stroke="#8e0552" stroke-width="1.2"/>
<text x="300.25" y="827.39" font-size="9.2" fill="#16162b" stroke="#16162b" text-anchor="middle">B</text>
<path d="M196.8 820.6L201 826.3H199.2L203.2 830.4H198.1V832H195.5V830.4H190.4Z" fill="#111"/>
<path d="M265.6 842.6L269.8 848.3H268L272 852.4H266.9V854H264.3V852.4H259.2Z" fill="#111"/>
<text x="72.2" y="644.07" font-size="9.7" fill="#16162b" stroke="#16162b" text-anchor="end">1000</text>
<text x="72.2" y="669.7" font-size="9.7" fill="#16162b" stroke="#16162b" text-anchor="end">900</text>
<text x="72.2" y="695.33" font-size="9.7" fill="#16162b" stroke="#16162b" text-anchor="end">800</text>
<text x="72.2" y="720.96" font-size="9.7" fill="#16162b" stroke="#16162b" text-anchor="end">800</text>
<text x="72.2" y="746.59" font-size="9.7" fill="#16162b" stroke="#16162b" text-anchor="end">800</text>
<text x="72.2" y="772.22" font-size="9.7" fill="#16162b" stroke="#16162b" text-anchor="end">800</text>
<text x="72.2" y="797.85" font-size="9.7" fill="#16162b" stroke="#16162b" text-anchor="end">800</text>
<text x="72.2" y="823.48" font-size="9.7" fill="#16162b" stroke="#16162b" text-anchor="end">800</text>
<text x="72.2" y="849.11" font-size="9.7" fill="#16162b" stroke="#16162b" text-anchor="end">800</text>
<text x="72.2" y="874.74" font-size="9.7" fill="#16162b" stroke="#16162b" text-anchor="end">800</text>
<text x="70.6" y="900.37" font-size="9.7" fill="#16162b" stroke="#16162b" text-anchor="end">0</text>
<text x="74.8" y="909.53" font-size="9.3" fill="#16162b" stroke="#16162b" text-anchor="middle">1</text>
<text x="161" y="909.53" font-size="9.3" fill="#16162b" stroke="#16162b" text-anchor="middle">10</text>
<text x="247.5" y="909.53" font-size="9.3" fill="#16162b" stroke="#16162b" text-anchor="middle">100</text>
<text x="333.8" y="909.53" font-size="9.3" fill="#16162b" stroke="#16162b" text-anchor="middle">1000</text>
<text class="c" x="162.46" y="930.49" font-size="9.7" textLength="9.7">时</text>
<text class="c" x="184.91" y="930.49" font-size="9.7" textLength="9.7">间</text>
<text x="199" y="930.35" font-size="11.6" fill="#16162b" stroke="#16162b" textLength="31.4" lengthAdjust="spacingAndGlyphs">( min )</text>
<g transform="translate(44.8 0) rotate(-90)">
<text class="c" x="-805.6" y="3.65" font-size="9.6" textLength="9.6">温</text>
<text class="c" x="-782.7" y="3.65" font-size="9.6" textLength="9.6">度</text>
<text x="-765.6" y="3.94" font-size="11" fill="#16162b" stroke="#16162b" text-anchor="middle">(</text>
<text x="-755.4" y="4.21" font-size="11.2" fill="#16162b" stroke="#16162b" text-anchor="middle">°C</text>
<text x="-741.6" y="3.94" font-size="11" fill="#16162b" stroke="#16162b" text-anchor="middle">)</text>
</g>
<line x1="415.2" y1="660.44" x2="662.6" y2="660.44" stroke="#1e1e1e" stroke-width="1.2"/>
<line x1="415.2" y1="695.79" x2="662.6" y2="695.79" stroke="#1e1e1e" stroke-width="1.2"/>
<line x1="415.2" y1="731.13" x2="662.6" y2="731.13" stroke="#1e1e1e" stroke-width="1.2"/>
<line x1="415.2" y1="766.47" x2="662.6" y2="766.47" stroke="#1e1e1e" stroke-width="1.2"/>
<line x1="415.2" y1="801.81" x2="662.6" y2="801.81" stroke="#1e1e1e" stroke-width="1.2"/>
<line x1="415.2" y1="837.16" x2="662.6" y2="837.16" stroke="#1e1e1e" stroke-width="1.2"/>
<line x1="456.43" y1="625.1" x2="456.43" y2="872.5" stroke="#1e1e1e" stroke-width="1.2"/>
<line x1="497.67" y1="625.1" x2="497.67" y2="872.5" stroke="#1e1e1e" stroke-width="1.2"/>
<line x1="538.9" y1="625.1" x2="538.9" y2="872.5" stroke="#1e1e1e" stroke-width="1.2"/>
<line x1="580.13" y1="625.1" x2="580.13" y2="872.5" stroke="#1e1e1e" stroke-width="1.2"/>
<line x1="621.37" y1="625.1" x2="621.37" y2="872.5" stroke="#1e1e1e" stroke-width="1.2"/>
<rect x="577" y="629" width="72" height="27.5" fill="#fff"/>
<path d="M498.3 750.1L538.7 734.6L579.8 734.6L621.3 739.6" fill="none" stroke="#9c1c69" stroke-width="1"/>
<path d="M498.3 773.8L538.7 753.5L579.8 750.2L621.3 754.2" fill="none" stroke="#9c1c69" stroke-width="1"/>
<circle cx="455.7" cy="804.9" r="3.2" fill="#fff" stroke="#8e0552" stroke-width="1.2"/>
<circle cx="498.3" cy="750.1" r="3.2" fill="#fff" stroke="#8e0552" stroke-width="1.2"/>
<circle cx="538.7" cy="734.6" r="3.2" fill="#fff" stroke="#8e0552" stroke-width="1.2"/>
<circle cx="579.8" cy="734.6" r="3.2" fill="#fff" stroke="#8e0552" stroke-width="1.2"/>
<circle cx="621.3" cy="739.6" r="3.2" fill="#fff" stroke="#8e0552" stroke-width="1.2"/>
<rect x="453.35" y="840.55" width="5.3" height="5.3" fill="#fff" stroke="#8e0552" stroke-width="1.2"/>
<rect x="495.65" y="771.15" width="5.3" height="5.3" fill="#fff" stroke="#8e0552" stroke-width="1.2"/>
<rect x="536.05" y="750.85" width="5.3" height="5.3" fill="#fff" stroke="#8e0552" stroke-width="1.2"/>
<rect x="577.15" y="747.55" width="5.3" height="5.3" fill="#fff" stroke="#8e0552" stroke-width="1.2"/>
<rect x="618.65" y="751.55" width="5.3" height="5.3" fill="#fff" stroke="#8e0552" stroke-width="1.2"/>
<rect x="415.2" y="625.1" width="247.4" height="247.4" fill="none" stroke="#8e0552" stroke-width="1.5"/>
<line x1="582.6" y1="638.6" x2="601.6" y2="638.6" stroke="#8e0552" stroke-width="1.2"/>
<circle cx="592.6" cy="638.6" r="3.1" fill="#fff" stroke="#8e0552" stroke-width="1.1"/>
<line x1="582.6" y1="651.2" x2="601.6" y2="651.2" stroke="#8e0552" stroke-width="1.2"/>
<rect x="590" y="648.6" width="5.2" height="5.2" fill="#fff" stroke="#8e0552" stroke-width="1.1"/>
<text class="c" x="606.4" y="642.13" font-size="9.3" textLength="37.2">长的方向</text>
<text class="c" x="606.4" y="654.53" font-size="9.3" textLength="27.9">径方向</text>
<text x="412.4" y="628.98" font-size="10" fill="#16162b" stroke="#16162b" text-anchor="end">0.50</text>
<text x="412.4" y="664.32" font-size="10" fill="#16162b" stroke="#16162b" text-anchor="end">0.40</text>
<text x="412.4" y="699.67" font-size="10" fill="#16162b" stroke="#16162b" text-anchor="end">0.30</text>
<text x="412.4" y="735.01" font-size="10" fill="#16162b" stroke="#16162b" text-anchor="end">0.20</text>
<text x="412.4" y="770.35" font-size="10" fill="#16162b" stroke="#16162b" text-anchor="end">0.10</text>
<text x="412.4" y="805.69" font-size="10" fill="#16162b" stroke="#16162b" text-anchor="end">0.00</text>
<text x="412.4" y="841.04" font-size="10" fill="#16162b" stroke="#16162b" text-anchor="end">-0.10</text>
<text x="412.4" y="876.38" font-size="10" fill="#16162b" stroke="#16162b" text-anchor="end">-0.20</text>
<text class="c" x="432.6" y="885.53" font-size="9.3" textLength="37.5">淬火状态</text>
<text x="497.67" y="884.84" font-size="9.6" fill="#16162b" stroke="#16162b" text-anchor="middle">540</text>
<text x="538.9" y="884.84" font-size="9.6" fill="#16162b" stroke="#16162b" text-anchor="middle">560</text>
<text x="580.13" y="884.84" font-size="9.6" fill="#16162b" stroke="#16162b" text-anchor="middle">580</text>
<text x="621.37" y="884.84" font-size="9.6" fill="#16162b" stroke="#16162b" text-anchor="middle">600</text>
<text x="665.2" y="884.84" font-size="9.6" fill="#16162b" stroke="#16162b" text-anchor="middle">620</text>
<text class="c" x="482.4" y="901.8" font-size="10" textLength="40.6">回火温度</text>
<text x="526.4" y="901.94" font-size="11" fill="#16162b" stroke="#16162b">(</text>
<text x="534" y="901.94" font-size="11" fill="#16162b" stroke="#16162b" textLength="38" lengthAdjust="spacingAndGlyphs">°C x 1h</text>
<text x="577.4" y="901.94" font-size="11" fill="#16162b" stroke="#16162b">)</text>
<text x="585.6" y="901.94" font-size="11" fill="#16162b" stroke="#16162b" textLength="13.6" lengthAdjust="spacingAndGlyphs">x 2</text>
<text class="c" x="599.4" y="901.8" font-size="10" textLength="10">次</text>
<g transform="translate(372.0 0) rotate(-90)">
<text class="c" x="-798.1" y="3.72" font-size="9.8" textLength="11.76" lengthAdjust="spacingAndGlyphs">尺</text>
<text class="c" x="-783.5" y="3.72" font-size="9.8" textLength="11.76" lengthAdjust="spacingAndGlyphs">寸</text>
<text class="c" x="-770.7" y="3.72" font-size="9.8" textLength="11.76" lengthAdjust="spacingAndGlyphs">变</text>
<text class="c" x="-758.3" y="3.72" font-size="9.8" textLength="11.76" lengthAdjust="spacingAndGlyphs">形</text>
<text class="c" x="-745.7" y="3.72" font-size="9.8" textLength="11.76" lengthAdjust="spacingAndGlyphs">率</text>
<text x="-721.1" y="3.76" font-size="10.5" fill="#16162b" stroke="#16162b" text-anchor="middle">(</text>
<text x="-708.2" y="3.87" font-size="10.8" fill="#16162b" stroke="#16162b" text-anchor="middle">%</text>
<text x="-695" y="3.76" font-size="10.5" fill="#16162b" stroke="#16162b" text-anchor="middle">)</text>
</g>
<circle cx="377" cy="921.6" r="4.7" fill="#8e0552"/>
<circle cx="377" cy="939" r="4.7" fill="#8e0552"/>
<text class="c" x="389.16" y="925.82" font-size="11.1" textLength="46.8">试片形状</text>
<circle cx="442.4" cy="919.3" r="1" fill="#1a1a1a"/><circle cx="442.4" cy="924.2" r="1" fill="#1a1a1a"/>
<text x="447.4" y="925.68" font-size="11.4" fill="#16162b" stroke="#16162b">ϕ</text>
<text x="454.6" y="925.68" font-size="11.4" fill="#16162b" stroke="#16162b" textLength="71" lengthAdjust="spacingAndGlyphs">100 X 60 mm</text>
<text class="c" x="389.42" y="943.22" font-size="11.1" textLength="46.8">淬火条件</text>
<circle cx="442.4" cy="936.7" r="1" fill="#1a1a1a"/><circle cx="442.4" cy="941.6" r="1" fill="#1a1a1a"/>
<text x="449.2" y="943.08" font-size="11.4" fill="#16162b" stroke="#16162b" textLength="36.2" lengthAdjust="spacingAndGlyphs">1140°C</text>
<text class="c" x="489.13" y="943.22" font-size="11.1" textLength="45.6">热浴淬火</text>
</svg>
</body></html>
